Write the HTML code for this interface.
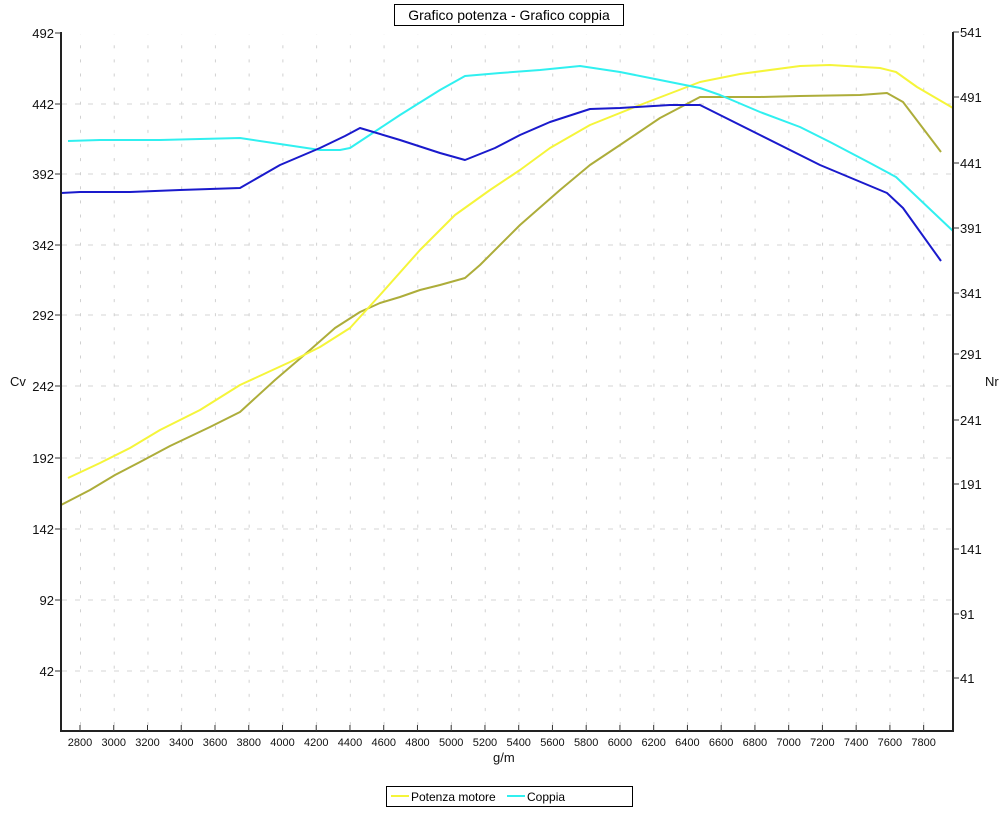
<!DOCTYPE html>
<html><head><style>body{margin:0;background:#fff}svg{display:block;font-family:"Liberation Sans",sans-serif}</style></head><body>
<svg width="1000" height="822" viewBox="0 0 1000 822">
<defs><pattern id="g" x="80" y="0" width="33.73" height="14.1" patternUnits="userSpaceOnUse"><rect x="0" y="3" width="1" height="3" fill="#d0d0d0"/></pattern></defs>
<rect x="62" y="34" width="890" height="695" fill="url(#g)"/>
<g stroke="#d4d4d4" stroke-dasharray="5,8" stroke-width="1">
<line x1="62" x2="952" y1="104" y2="104"/><line x1="62" x2="952" y1="174" y2="174"/><line x1="62" x2="952" y1="245" y2="245"/><line x1="62" x2="952" y1="315" y2="315"/><line x1="62" x2="952" y1="386" y2="386"/><line x1="62" x2="952" y1="458" y2="458"/><line x1="62" x2="952" y1="529" y2="529"/><line x1="62" x2="952" y1="600" y2="600"/><line x1="62" x2="952" y1="671" y2="671"/>
</g>
<g fill="none" stroke-width="2" stroke-linejoin="round">
<polyline stroke="#adad3a" points="61,505 90,490 115,475 140,462 170,446 210,427 240,412 275,380 310,350 335,328 360,312 380,303 400,297 420,290 440,285 465,278 480,265 500,245 520,225 560,190 590,165 620,145 660,118 700,97 760,97 800,96 860,95 887,93 903,102 941,152"/>
<polyline stroke="#f5f53a" points="68,478 100,463 130,448 160,430 200,410 240,385 290,362 320,347 350,328 380,295 420,250 455,215 490,190 520,170 550,148 590,125 640,105 700,82 740,74 800,66 830,65 880,68 896,72 917,87 953,108"/>
<polyline stroke="#30f0f0" points="68,141 100,140 160,140 200,139 240,138 280,144 320,150 340,150 350,148 400,115 440,90 465,76 500,73 540,70 580,66 620,72 660,80 700,88 720,95 760,112 800,127 830,142 870,163 896,177 953,231"/>
<polyline stroke="#1a1acc" points="61,193 80,192 130,192 180,190 240,188 280,165 320,148 345,136 360,128 400,140 440,153 465,160 495,148 520,135 550,122 590,109 620,108 670,105 700,105 720,115 760,135 820,165 887,193 903,208 941,261"/>
</g>
<g stroke="#222" stroke-width="2" fill="none"><polyline points="61,32 61,731 953,731 953,32"/></g>
<g stroke="#333" stroke-width="1">
<line x1="55" x2="61" y1="33" y2="33"/><line x1="55" x2="61" y1="104" y2="104"/><line x1="55" x2="61" y1="174" y2="174"/><line x1="55" x2="61" y1="245" y2="245"/><line x1="55" x2="61" y1="315" y2="315"/><line x1="55" x2="61" y1="386" y2="386"/><line x1="55" x2="61" y1="458" y2="458"/><line x1="55" x2="61" y1="529" y2="529"/><line x1="55" x2="61" y1="600" y2="600"/><line x1="55" x2="61" y1="671" y2="671"/>
<line x1="953" x2="959" y1="32" y2="32"/><line x1="953" x2="959" y1="97" y2="97"/><line x1="953" x2="959" y1="163" y2="163"/><line x1="953" x2="959" y1="228" y2="228"/><line x1="953" x2="959" y1="293" y2="293"/><line x1="953" x2="959" y1="354" y2="354"/><line x1="953" x2="959" y1="420" y2="420"/><line x1="953" x2="959" y1="484" y2="484"/><line x1="953" x2="959" y1="549" y2="549"/><line x1="953" x2="959" y1="614" y2="614"/><line x1="953" x2="959" y1="678" y2="678"/>
</g>
<g font-size="13" text-anchor="end" fill="#111">
<text x="54" y="38">492</text><text x="54" y="109">442</text><text x="54" y="179">392</text><text x="54" y="250">342</text><text x="54" y="320">292</text><text x="54" y="391">242</text><text x="54" y="463">192</text><text x="54" y="534">142</text><text x="54" y="605">92</text><text x="54" y="676">42</text>
</g>
<g font-size="13" fill="#111">
<text x="960" y="37">541</text><text x="960" y="102">491</text><text x="960" y="168">441</text><text x="960" y="233">391</text><text x="960" y="298">341</text><text x="960" y="359">291</text><text x="960" y="425">241</text><text x="960" y="489">191</text><text x="960" y="554">141</text><text x="960" y="619">91</text><text x="960" y="683">41</text>
<text x="10" y="386">Cv</text><text x="985" y="386">Nr</text>
<text x="493" y="762">g/m</text>
</g>
<g font-size="11" text-anchor="middle" fill="#111" id="xt"></g>
<g stroke="#333" id="xk"></g>
<script>
var t=document.getElementById('xt'),k=document.getElementById('xk'),ns='http://www.w3.org/2000/svg';
for(var r=2800;r<=7800;r+=200){var x=80+(r-2800)*0.16873;
var e=document.createElementNS(ns,'text');e.setAttribute('x',x);e.setAttribute('y',746);e.textContent=r;t.appendChild(e);
var l=document.createElementNS(ns,'line');l.setAttribute('x1',x);l.setAttribute('x2',x);l.setAttribute('y1',725);l.setAttribute('y2',731);k.appendChild(l);}
</script>
<rect x="394.5" y="4.5" width="229" height="21" fill="#fff" stroke="#000"/>
<text x="509" y="20" font-size="14" text-anchor="middle">Grafico potenza - Grafico coppia</text>
<rect x="386.5" y="786.5" width="246" height="20" fill="#fff" stroke="#000"/>
<line x1="391" x2="409" y1="796" y2="796" stroke="#f5f53a" stroke-width="2"/>
<text x="411" y="801" font-size="12">Potenza motore</text>
<line x1="507" x2="525" y1="796" y2="796" stroke="#30f0f0" stroke-width="2"/>
<text x="527" y="801" font-size="12">Coppia</text>
</svg>
</body></html>
